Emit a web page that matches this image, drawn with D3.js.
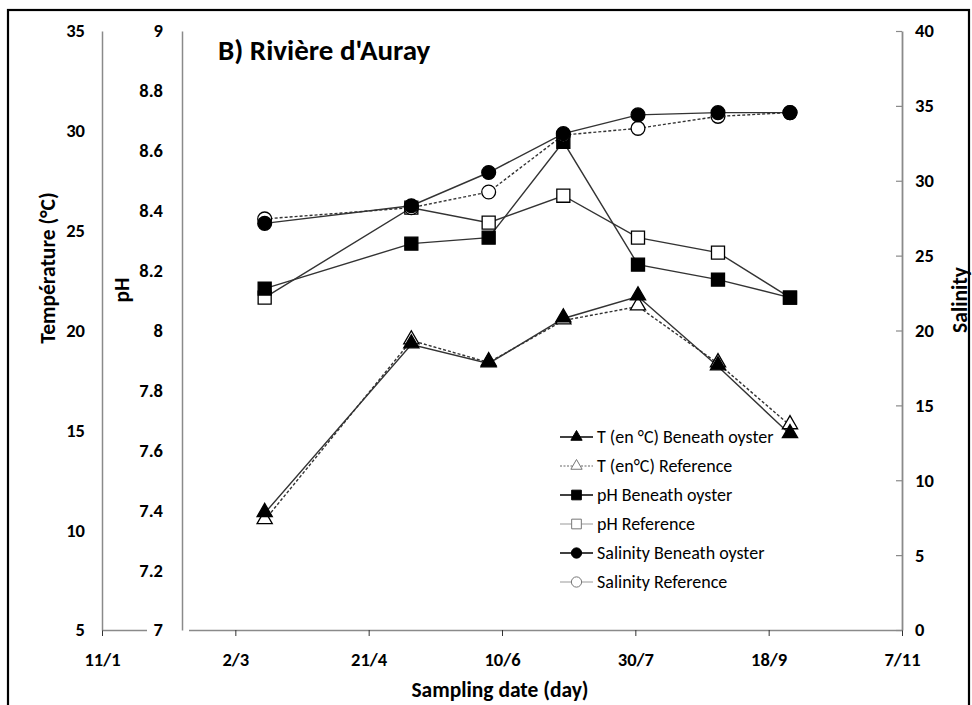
<!DOCTYPE html>
<html>
<head>
<meta charset="utf-8">
<script src="https://cdn.jsdelivr.net/npm/d3@7/dist/d3.min.js"></script>
<style>
  html, body { margin: 0; padding: 0; background: #fff; }
  svg { display: block; }
  text { font-family: Carlito, Lato, "Open Sans", sans-serif; fill: #000; }
</style>
</head>
<body>
<svg id="chart" width="972" height="705"></svg>
<script>
// Sampling dates (day/month, 2013)
const sampleDates = ["2013-03-13", "2013-05-07", "2013-06-05", "2013-07-03", "2013-07-31", "2013-08-30", "2013-09-26"];

// Temperature (°C)
const tempBeneath   = [10.85, 19.3, 18.35, 20.6, 21.7, 18.2, 14.8];
const tempReference = [10.5, 19.5, 18.4, 20.5, 21.2, 18.35, 15.25];

// pH
const phBeneath   = [8.14, 8.29, 8.31, 8.63, 8.22, 8.17, 8.11];
const phReference = [8.11, 8.41, 8.36, 8.45, 8.31, 8.26, 8.11];

// Salinity
const salBeneath   = [27.15, 28.33, 30.55, 33.15, 34.4, 34.55, 34.55];
const salReference = [27.45, 28.2, 29.25, 33.05, 33.5, 34.3, 34.55];

// Axis ticks
const dateTicks = ["2013-01-11", "2013-03-02", "2013-04-21", "2013-06-10", "2013-07-30", "2013-09-18", "2013-11-07"];
const tempTicks = [5, 10, 15, 20, 25, 30, 35];
const phTicks = [7, 7.2, 7.4, 7.6, 7.8, 8, 8.2, 8.4, 8.6, 8.8, 9];
const salTicks = [0, 5, 10, 15, 20, 25, 30, 35, 40];

const legendLabels = ["T (en °C) Beneath oyster", "T (en°C) Reference", "pH Beneath oyster",
                      "pH Reference", "Salinity Beneath oyster", "Salinity Reference"];

const parse = d3.utcParse("%Y-%m-%d");
const dates = sampleDates.map(parse);

const svg = d3.select("#chart");

// outer frame
svg.append("rect").attr("x", 8).attr("y", 10).attr("width", 961).attr("height", 705)
  .attr("fill", "none").attr("stroke", "#000").attr("stroke-width", 2.2);

const plotTop = 31, plotBottom = 630, plotLeft = 102, plotRight = 902;
const x = d3.scaleUtc().domain([parse(dateTicks[0]), parse(dateTicks[dateTicks.length - 1])]).range([plotLeft, plotRight]);
const yT = d3.scaleLinear().domain([5, 35]).range([plotBottom, plotTop]);
const yP = d3.scaleLinear().domain([7, 9]).range([plotBottom, plotTop]);
const yS = d3.scaleLinear().domain([0, 40]).range([plotBottom, plotTop]);

const axisGrey = "#8a8a8a";
const tickFont = 18.5;
const titleFont = 21.5;
const fmtDate = d3.utcFormat("%-d/%-m");

// x axis
const gx = svg.append("g").attr("transform", `translate(0,${plotBottom})`)
  .call(d3.axisBottom(x).tickValues(dateTicks.map(parse)).tickFormat(fmtDate).tickSize(6).tickSizeOuter(0).tickPadding(17));
gx.select(".domain").attr("stroke", axisGrey).attr("stroke-width", 1.5);
gx.selectAll(".tick line").attr("stroke", "#333").attr("stroke-width", 1);
gx.selectAll(".tick text").attr("font-size", tickFont).attr("font-weight", "bold").attr("fill", "#000");

// temperature axis (left)
const gT = svg.append("g").attr("transform", `translate(${plotLeft},0)`)
  .call(d3.axisLeft(yT).tickValues(tempTicks).tickSize(0).tickPadding(17));
gT.select(".domain").attr("stroke", axisGrey).attr("stroke-width", 1.5);
gT.selectAll(".tick text").attr("font-size", tickFont).attr("font-weight", "bold").attr("fill", "#000");

// white patch behind the lowest pH label, breaking the x axis line
svg.append("rect").attr("x", 147).attr("y", plotBottom - 4).attr("width", 42).attr("height", 9).attr("fill", "#fff");

// pH axis
const gP = svg.append("g").attr("transform", `translate(182,0)`)
  .call(d3.axisLeft(yP).tickValues(phTicks).tickFormat(d3.format("~g")).tickSize(0).tickPadding(19));
gP.select(".domain").attr("stroke", axisGrey).attr("stroke-width", 1.5);
gP.selectAll(".tick text").attr("font-size", tickFont).attr("font-weight", "bold").attr("fill", "#000");

// salinity axis (right)
const gS = svg.append("g").attr("transform", `translate(${plotRight},0)`)
  .call(d3.axisRight(yS).tickValues(salTicks).tickSize(0).tickPadding(13));
gS.select(".domain").attr("stroke", axisGrey).attr("stroke-width", 1.8);
gS.selectAll(".tick text").attr("font-size", tickFont).attr("font-weight", "bold").attr("fill", "#000");
gS.selectAll(".tick").append("line").attr("x1", -6).attr("x2", 0).attr("stroke", axisGrey).attr("stroke-width", 1.2);

// axis titles
svg.append("text").attr("transform", `translate(55,268) rotate(-90)`).attr("text-anchor", "middle")
  .attr("font-size", titleFont).attr("font-weight", "bold").text("Température (°C)");
svg.append("text").attr("transform", `translate(129,290) rotate(-90)`).attr("text-anchor", "middle")
  .attr("font-size", titleFont).attr("font-weight", "bold").text("pH");
svg.append("text").attr("transform", `translate(967,300) rotate(-90)`).attr("text-anchor", "middle")
  .attr("font-size", titleFont).attr("font-weight", "bold").text("Salinity");
svg.append("text").attr("x", 500).attr("y", 697).attr("text-anchor", "middle")
  .attr("font-size", titleFont).attr("font-weight", "bold").text("Sampling date (day)");

// title
svg.append("text").attr("x", 218).attr("y", 60).attr("font-size", 29).attr("font-weight", "bold")
  .text("B) Rivière d'Auray");

// series definitions
const series = [
  { vals: tempReference, y: yT, shape: d3.symbolTriangle, fill: "#fff", dash: "3,2" },
  { vals: tempBeneath,   y: yT, shape: d3.symbolTriangle, fill: "#000", dash: null },
  { vals: phReference,   y: yP, shape: d3.symbolSquare,   fill: "#fff", dash: null },
  { vals: phBeneath,     y: yP, shape: d3.symbolSquare,   fill: "#000", dash: null },
  { vals: salReference,  y: yS, shape: d3.symbolCircle,   fill: "#fff", dash: "3,2" },
  { vals: salBeneath,    y: yS, shape: d3.symbolCircle,   fill: "#000", dash: null }
];
function sizeOf(shape, scale) {
  if (shape === d3.symbolTriangle) return 100 * scale;
  if (shape === d3.symbolSquare) return 170 * scale;
  return 150 * scale;
}

// lines
series.forEach(s => {
  const line = d3.line().x((d, i) => x(dates[i])).y(d => s.y(d));
  svg.append("path").datum(s.vals).attr("d", line).attr("fill", "none")
    .attr("stroke", "#333").attr("stroke-width", 1.4)
    .attr("stroke-dasharray", s.dash);
});

// markers
series.forEach(s => {
  svg.append("g").selectAll("path").data(s.vals).join("path")
    .attr("transform", (d, i) => `translate(${x(dates[i])},${s.y(d) + (s.shape === d3.symbolTriangle ? -1 : 0)})`)
    .attr("d", d3.symbol().type(s.shape).size(sizeOf(s.shape, 1)))
    .attr("fill", s.fill).attr("stroke", "#000").attr("stroke-width", 1.3);
});

// legend
const legendStyles = [
  { shape: d3.symbolTriangle, fill: "#000", stroke: "#000", dash: null, lw: 1.4 },
  { shape: d3.symbolTriangle, fill: "#fff", stroke: "#999", dash: "2,1.5", lw: 1.4 },
  { shape: d3.symbolSquare,   fill: "#000", stroke: "#000", dash: null, lw: 1.4 },
  { shape: d3.symbolSquare,   fill: "#fff", stroke: "#999", dash: null, lw: 1.2 },
  { shape: d3.symbolCircle,   fill: "#000", stroke: "#000", dash: null, lw: 1.4 },
  { shape: d3.symbolCircle,   fill: "#fff", stroke: "#999", dash: null, lw: 1.2 }
];
const lg = svg.append("g").attr("transform", "translate(560,437)");
legendLabels.forEach((lab, i) => {
  const st = legendStyles[i];
  const row = lg.append("g").attr("transform", `translate(0,${i * 29})`);
  row.append("line").attr("x1", 0).attr("x2", 33).attr("y1", 0).attr("y2", 0)
    .attr("stroke", st.stroke).attr("stroke-width", st.lw).attr("stroke-dasharray", st.dash);
  row.append("path").attr("transform", "translate(16.5,0)")
    .attr("d", d3.symbol().type(st.shape).size(sizeOf(st.shape, 0.55)))
    .attr("fill", st.fill).attr("stroke", st.fill === "#000" ? "#000" : "#777").attr("stroke-width", 1);
  row.append("text").attr("x", 37).attr("y", 6).attr("font-size", 18).text(lab);
});
</script>
</body>
</html>
